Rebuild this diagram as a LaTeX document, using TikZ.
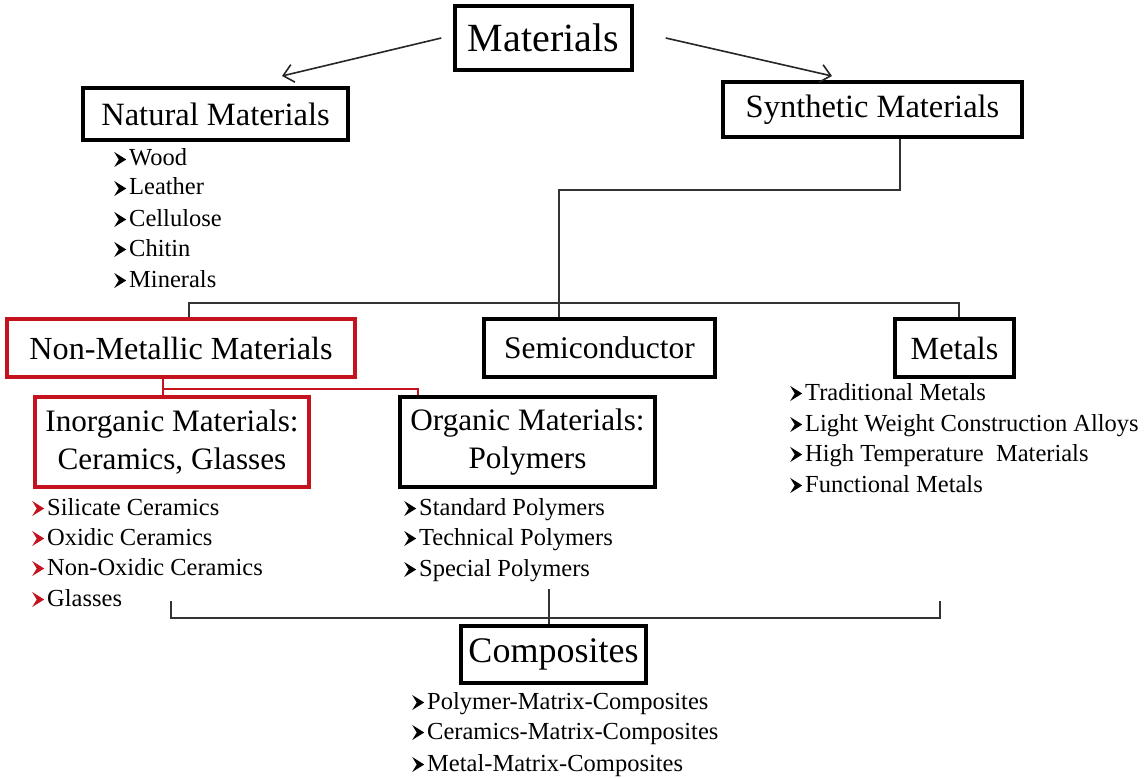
\documentclass[tikz,border=0pt]{standalone}
\usepackage{fontspec}
\setmainfont{Liberation Serif}
\usetikzlibrary{arrows.meta,calc}
\definecolor{bred}{RGB}{196,18,30}
\newcommand{\bltshape}[1]{\tikz[baseline=0pt,x=1pt,y=1pt]\fill[#1] (0,-1) -- (12,6.5) -- (0,14) -- (4.5,6.5) -- cycle;\hspace{3pt}}
\newcommand{\blt}{\bltshape{black}}
\newcommand{\rblt}{\bltshape{bred}}
\tikzset{
  box/.style={draw=black, line width=3.4pt, inner sep=0pt, align=center},
  rbox/.style={box, draw=bred},
  itm/.style={anchor=base west, inner sep=0pt, font=\fontsize{24.5}{28}\selectfont},
  conn/.style={draw=black!80, line width=1.6pt},
  rconn/.style={draw=bred, line width=1.4pt},
  arr/.style={draw=black!85, line width=1.6pt, -{Straight Barb[length=10pt,width=18pt,line width=1.6pt]}}
}
\begin{document}
\begin{tikzpicture}[x=1pt,y=-1pt]
\useasboundingbox (0,0) rectangle (1145,778);
% boxes
\node[box, minimum width=177, minimum height=64, font=\fontsize{40}{44}\selectfont] (mat) at (543.5,38) {Materials};
\node[box, minimum width=265, minimum height=52, font=\fontsize{32.5}{36}\selectfont] (nat) at (215.5,114) {Natural Materials};
\node[box, minimum width=299, minimum height=55, font=\fontsize{32.5}{36}\selectfont] (syn) at (872.5,109.5) {Synthetic Materials};
\node[rbox, minimum width=348, minimum height=58, font=\fontsize{32.2}{36}\selectfont] (nm) at (181,348) {Non-Metallic Materials};
\node[box, minimum width=231, minimum height=58, font=\fontsize{31.5}{36}\selectfont] (semi) at (599.5,348) {Semiconductor};
\node[box, minimum width=119, minimum height=58, font=\fontsize{32.3}{36}\selectfont] (met) at (954.5,348) {Metals};
\node[rbox, minimum width=274, minimum height=90, font=\fontsize{31.2}{38}\selectfont] (ino) at (172,442) {Inorganic Materials:\\Ceramics, Glasses};
\node[box, minimum width=255, minimum height=90, font=\fontsize{31.2}{38}\selectfont] (org) at (527.5,442) {Organic Materials:\\Polymers};
\node[box, minimum width=185, minimum height=57, font=\fontsize{36}{40}\selectfont] (comp) at (553.5,654.5) {Composites};
% arrows
\coordinate (al) at (282,76);
\coordinate (ar) at (832,76);
\draw[arr] ($(mat.west)+(-12,0)$) -- (al);
\draw[arr] ($(mat.east)+(32,0)$) -- (ar);
% natural items
\node[itm] (n1) at (114,166) {\blt Wood};
\node[itm] (n2) at (114,195) {\blt Leather};
\node[itm] (n3) at (114,226) {\blt Cellulose};
\node[itm] (n4) at (114,256) {\blt Chitin};
\node[itm] (n5) at (114,287) {\blt Minerals};
% synthetic tree
\coordinate (sx) at (900,0);
\coordinate (k) at (559,190);
\coordinate (b1) at (189,303);
\coordinate (b2) at (559,303);
\coordinate (b3) at (959,303);
\draw[conn] (syn.south -| sx) |- (k) -- (b2);
\draw[conn] (nm.north -| b1) -- (b1) -- (b3) -- (met.north -| b3);
\draw[conn] (b2) -- (semi.north -| b2);
% red connector
\coordinate (r1) at (163,389);
\coordinate (r2) at (418,389);
\draw[rconn] (nm.south -| r1) -- (ino.north -| r1);
\draw[rconn] (r1) -- (r2) -- (org.north -| r2);
% metals items
\node[itm] (m1) at (790,400) {\blt Traditional Metals};
\node[itm] (m2) at (790,431) {\blt Light Weight Construction Alloys};
\node[itm] (m3) at (790,461) {\blt High Temperature\ \ Materials};
\node[itm] (m4) at (790,492) {\blt Functional Metals};
% inorganic items
\node[itm] (i1) at (32,515) {\rblt Silicate Ceramics};
\node[itm] (i2) at (32,545) {\rblt Oxidic Ceramics};
\node[itm] (i3) at (32,575) {\rblt Non-Oxidic Ceramics};
\node[itm] (i4) at (32,606) {\rblt Glasses};
% organic items
\node[itm] (o1) at (404,515) {\blt Standard Polymers};
\node[itm] (o2) at (404,545) {\blt Technical\ Polymers};
\node[itm] (o3) at (404,576) {\blt Special Polymers};
% bottom bracket
\coordinate (c1) at (171,601);
\coordinate (c2) at (940,601);
\coordinate (cm) at (549,589);
\draw[conn] (c1) |- (c2 |- 0,618) -- (c2);
\draw[conn] (cm) -- (comp.north -| cm);
% composites items
\node[itm] (p1) at (412,709) {\blt Polymer-Matrix-Composites};
\node[itm] (p2) at (412,739) {\blt Ceramics-Matrix-Composites};
\node[itm] (p3) at (412,771) {\blt Metal-Matrix-Composites};
\end{tikzpicture}
\end{document}
